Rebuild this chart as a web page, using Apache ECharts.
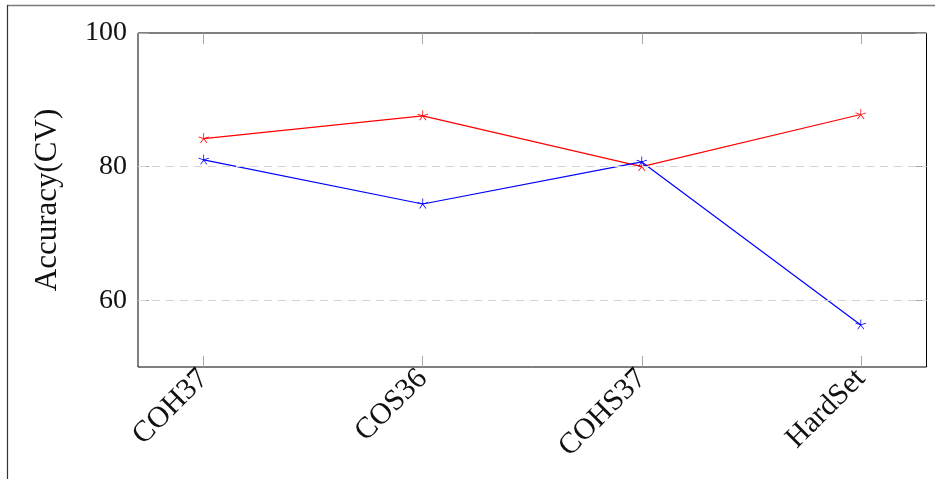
<!DOCTYPE html>
<html>
<head>
<meta charset="utf-8">
<script src="https://cdn.jsdelivr.net/npm/echarts@6/dist/echarts.min.js"></script>
<style>
  html, body { margin: 0; padding: 0; background: #fff; }
  #chart { width: 935px; height: 479px; }
</style>
</head>
<body>
<div id="chart"></div>
<script>
// Dataset names along the x axis
const categories = ['COH37', 'COS36', 'COHS37', 'HardSet'];
// Cross-validated accuracy per dataset
const redValues = [84.2, 87.6, 80.0, 87.8];
const blueValues = [81.0, 74.4, 80.7, 56.3];
// Y-axis tick labels and dashed reference lines
const yTicks = [60, 80, 100];
const gridLines = [60, 80];

const catIndex = categories.map((_, i) => i);
const FONT = "'Liberation Serif', 'Times New Roman', serif";

// Five-armed asterisk marker built from thin rectangular rays
function asteriskPath() {
  const c = 10, L = 10, w = 0.7;
  let d = '';
  for (let k = 0; k < 5; k++) {
    const a = Math.PI / 2 + k * 2 * Math.PI / 5;
    const dx = Math.cos(a), dy = -Math.sin(a);
    const px = -dy * w, py = dx * w;
    const pts = [
      [c + px, c + py],
      [c + px + dx * L, c + py + dy * L],
      [c - px + dx * L, c - py + dy * L],
      [c - px, c - py]
    ];
    d += 'M' + pts.map(p => p[0].toFixed(3) + ' ' + p[1].toFixed(3)).join(' L') + ' Z ';
  }
  // tiny anchor keeps the bounding box centred on the hub
  d += 'M10 20 L10.01 20 L10 19.99 Z';
  return 'path://' + d;
}
const STAR = asteriskPath();

const toPoints = vals => vals.map((v, i) => [i, v]);

const tickStyle = { color: '#a8a8a8', width: 1 };
const hiddenLine = { show: false, onZero: false };

const chart = echarts.init(document.getElementById('chart'), null, { renderer: 'canvas' });

chart.setOption({
  animation: false,
  backgroundColor: '#fff',
  grid: {
    left: 138, top: 33, right: 8.5, bottom: 112,
    show: true, borderColor: '#000', borderWidth: 1, backgroundColor: 'transparent'
  },
  graphic: [
    { type: 'line', shape: { x1: 7, y1: 5.5, x2: 935, y2: 5.5 }, style: { stroke: '#7a7a7a', lineWidth: 1.5 }, silent: true },
    { type: 'line', shape: { x1: 7.5, y1: 5, x2: 7.5, y2: 479 }, style: { stroke: '#333', lineWidth: 1.2 }, silent: true }
  ],
  xAxis: [
    {
      type: 'value', min: -0.3, max: 3.3, position: 'bottom',
      axisLine: hiddenLine,
      splitLine: { show: false },
      axisTick: { show: true, inside: true, length: 11, customValues: catIndex, lineStyle: tickStyle },
      axisLabel: {
        customValues: catIndex,
        formatter: v => categories[Math.round(v)],
        rotate: 45, margin: 7,
        fontFamily: FONT, fontSize: 30, color: '#111'
      }
    },
    {
      type: 'value', min: -0.3, max: 3.3, position: 'top',
      axisLine: hiddenLine,
      splitLine: { show: false },
      axisTick: { show: true, inside: true, length: 11, customValues: catIndex, lineStyle: tickStyle },
      axisLabel: { show: false }
    }
  ],
  yAxis: [
    {
      type: 'value', min: 50, max: 100, position: 'left',
      name: 'Accuracy(CV)', nameLocation: 'middle', nameGap: 75,
      nameTextStyle: { fontFamily: FONT, fontSize: 31, color: '#111' },
      axisLine: hiddenLine,
      splitLine: { show: false },
      axisTick: { show: true, inside: true, length: 11, customValues: yTicks, lineStyle: tickStyle },
      axisLabel: { customValues: yTicks, margin: 11, fontFamily: FONT, fontSize: 28, color: '#111' }
    },
    {
      type: 'value', min: 50, max: 100, position: 'right',
      axisLine: hiddenLine,
      splitLine: { show: false },
      axisTick: { show: true, inside: true, length: 11, customValues: yTicks, lineStyle: tickStyle },
      axisLabel: { show: false }
    }
  ],
  series: [
    {
      type: 'line', data: [], silent: true, z: 1,
      markLine: {
        silent: true, symbol: 'none', label: { show: false },
        lineStyle: { color: '#d4d4d4', width: 1.2, type: [8, 6] },
        data: gridLines.map(v => ({ yAxis: v }))
      }
    },
    {
      name: 'red', type: 'line', data: toPoints(redValues),
      symbol: STAR, symbolSize: 11, symbolKeepAspect: true, showSymbol: true,
      lineStyle: { color: '#ff0000', width: 1.2 },
      itemStyle: { color: '#ff0000', borderWidth: 0 },
      z: 3
    },
    {
      name: 'blue', type: 'line', data: toPoints(blueValues),
      symbol: STAR, symbolSize: 11, symbolKeepAspect: true, showSymbol: true,
      lineStyle: { color: '#0000ff', width: 1.2 },
      itemStyle: { color: '#0000ff', borderWidth: 0 },
      z: 4
    }
  ]
});
</script>
</body>
</html>
